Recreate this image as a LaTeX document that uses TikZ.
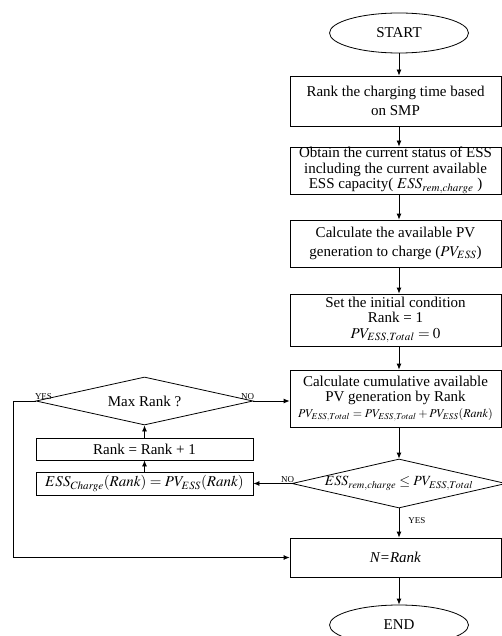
\documentclass[tikz,border=0pt]{standalone}
\usepackage{mathptmx}
\usepackage{amsmath}
\usepackage{fontspec}
\setmainfont{Liberation Serif}
\usetikzlibrary{shapes.geometric,positioning,arrows.meta}

\begin{document}
\begin{tikzpicture}[x=1pt,y=-1pt,>={Latex[length=6pt,width=5pt]},line width=0.8pt,
		box/.style={draw,rectangle,minimum width=211pt,align=center,inner sep=0pt,font=\fontsize{15}{15.5}\selectfont},
		term/.style={draw,ellipse,minimum width=139pt,minimum height=40pt,inner sep=0pt,font=\fontsize{15}{16}\selectfont},
		decision/.style={draw,diamond,inner sep=0pt},
		tag/.style={font=\fontsize{9}{10}\selectfont,inner sep=1pt}]
			\clip (0,0) rectangle (502,636);
			% main column
			\node[term] (start) at (399,33) {START};
			\node[box,minimum height=50pt] (rank) at (395.5,101) {Rank the charging time based\\[3pt]on SMP};
			\node[box,minimum height=47pt] (obtain) at (395.5,170.5) {Obtain the current status of ESS\\including the current available\\ESS capacity( $ESS_{rem,charge}$ )};
			\node[box,minimum height=47pt] (avail) at (395.5,243.5) {Calculate the available PV\\[3pt]generation to charge ($PV_{ESS}$)};
			\node[box,minimum height=52pt] (init) at (395.5,320) {Set the initial condition\\Rank = 1\\$PV_{ESS,Total}=0$};
			\node[box,minimum height=57pt] (cumul) at (395.5,398.5) {Calculate cumulative available\\PV generation by Rank\\{\fontsize{12}{14}\selectfont $PV_{ESS,Total}=PV_{ESS,Total}+PV_{ESS}(Rank)$}};
			\node[decision,minimum width=214pt,minimum height=49pt,
				label={center:{\fontsize{14}{15}\selectfont $ESS_{rem,charge}\leq PV_{ESS,Total}$}}] (cond) at (399,483.5) {};
			\node[box,minimum height=39pt] (nrank) at (395.5,557.5) {\textit{N=Rank}};
			\node[term] (end) at (399,625) {END};
			% loop on the left
			\node[decision,minimum width=217pt,minimum height=48pt,
				label={center:{\fontsize{15}{16}\selectfont Max Rank ?}}] (maxrank) at (144.5,401) {};
			\node[box,minimum width=217pt,minimum height=22pt] (rankinc) at (144.5,449) {Rank = Rank + 1};
			\node[box,minimum width=217pt,minimum height=23pt] (esschg) at (144.5,483.5) {$ESS_{Charge}(Rank)=PV_{ESS}(Rank)$};
			\coordinate (yesleft) at (13,401);

			\draw[->] (start.south) -- (start.south |- rank.north);
			\draw[->] (rank.south -| start) -- (obtain.north -| start);
			\draw[->] (obtain.south -| start) -- (avail.north -| start);
			\draw[->] (avail.south -| start) -- (init.north -| start);
			\draw[->] (init.south -| start) -- (cumul.north -| start);
			\draw[->] (cumul.south -| start) -- (cond.north);
			\draw[->] (cond.south) -- node[tag,right=8pt,pos=0.4] {YES} (cond.south |- nrank.north);
			\draw[->] (nrank.south -| start) -- (end.north);
			\draw[->] (cond.west) -- (esschg.east);
			\node[tag,above left=0pt and -4pt of cond.west] (condno) {NO};
			\draw[->] (esschg.north) -- (rankinc.south);
			\draw[->] (rankinc.north) -- (maxrank.south);
			\draw[->] (maxrank.east) -- (maxrank.east -| cumul.west);
			\node[tag,above left=0pt and -2pt of maxrank.east] (maxno) {NO};
			\draw[->] (maxrank.west) -- (yesleft) |- (nrank.west);
			\node[tag,above right=0pt and -2pt of maxrank.west] (maxyes) {YES};
			%\draw[dashed] (0,0) rectangle (502,636);
\end{tikzpicture}
\end{document}
